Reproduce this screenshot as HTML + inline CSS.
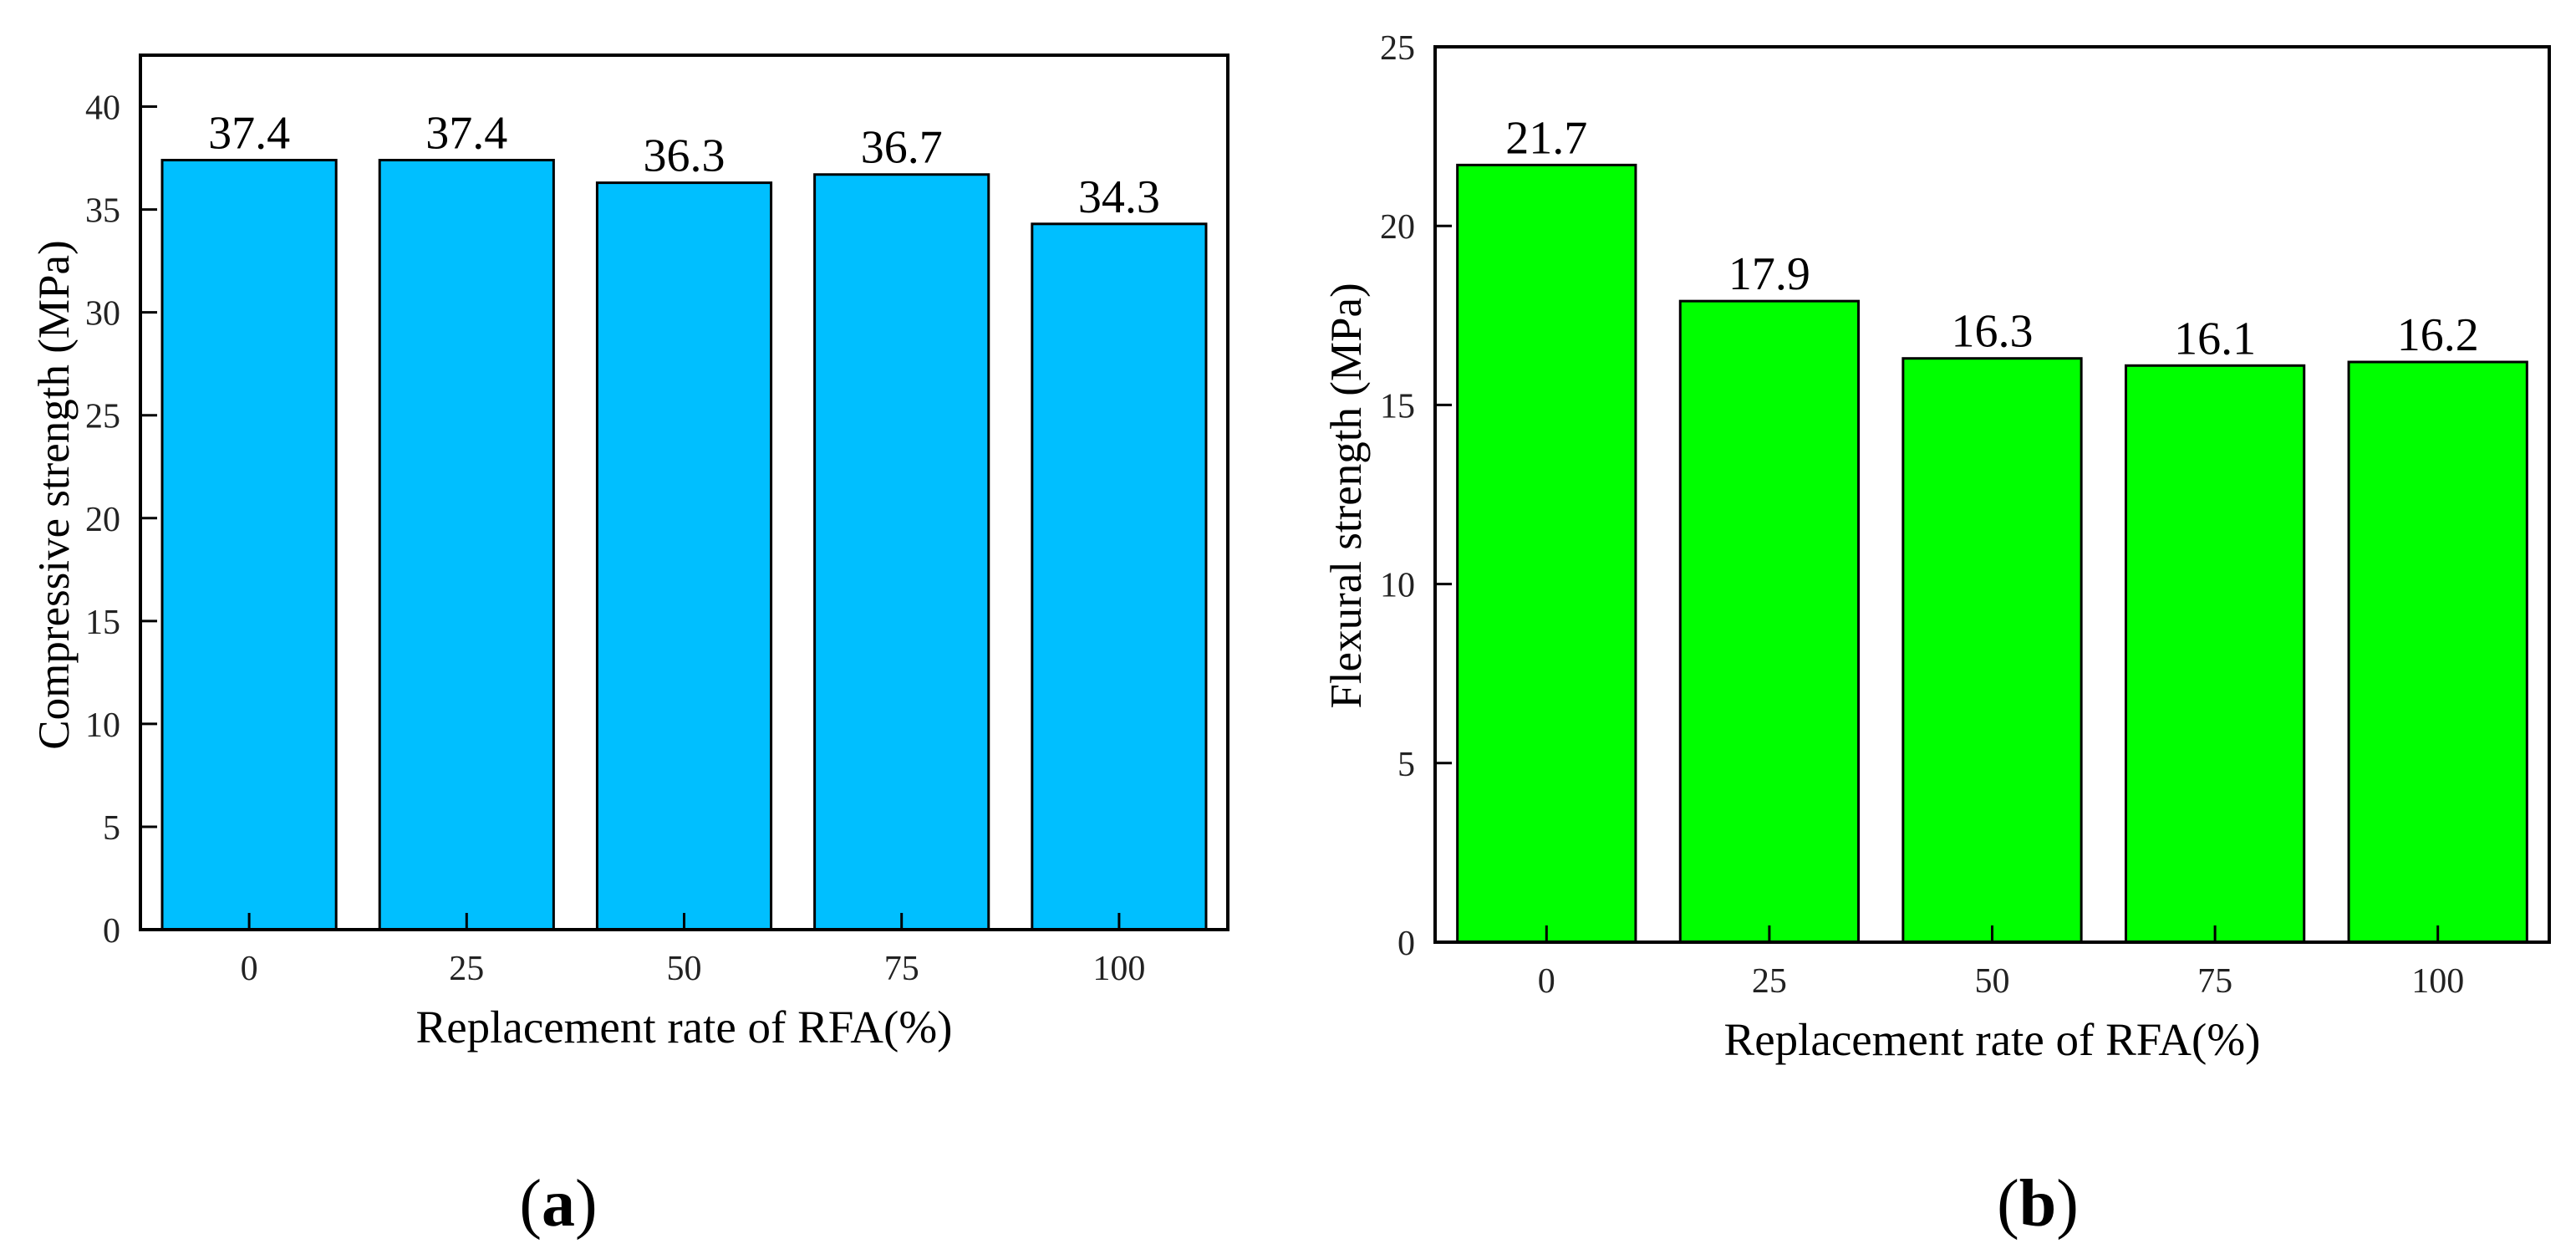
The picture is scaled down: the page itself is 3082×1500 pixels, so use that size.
<!DOCTYPE html>
<html><head><meta charset="utf-8">
<style>
html,body{margin:0;padding:0;background:#fff;}
svg{display:block;font-family:"Liberation Serif",serif;}
</style></head>
<body>
<svg id="fig" width="3082" height="1500" viewBox="0 0 3082 1500" xmlns="http://www.w3.org/2000/svg"></svg>
<script>
const categories = ["0","25","50","75","100"];
const compressiveValues = [37.4, 37.4, 36.3, 36.7, 34.3];
const flexuralValues = [21.7, 17.9, 16.3, 16.1, 16.2];
const compressiveTicks = [0,5,10,15,20,25,30,35,40];
const flexuralTicks = [0,5,10,15,20,25];

const NS = "http://www.w3.org/2000/svg";
const svg = document.getElementById("fig");
function mk(tag, attrs, parent){
  const e = document.createElementNS(NS, tag);
  for (const k in attrs) e.setAttribute(k, attrs[k]);
  (parent||svg).appendChild(e);
  return e;
}
function drawChart(cfg){
  const g = mk("g", {});
  
  
  const L=cfg.left,R=cfg.right,T=cfg.top,B=cfg.bottom;
  const y = v => B - v/cfg.ymax*(B-T);
  const band = (R-L)/cfg.cats.length;
  const xc = i => L + band*(i+0.5);
  const bw = band*0.8;
  cfg.values.forEach((v,i)=>{
    const r = mk("rect",{x:xc(i)-bw/2,y:y(v),width:bw,height:B-y(v),fill:cfg.color,stroke:"#000","stroke-width":3},g);
    
    
    const t = mk("text",{x:xc(i),y:y(v)-14,"text-anchor":"middle","font-size":56,fill:"#000"},g);
    t.textContent = v.toFixed(1);
    
    
  });
  const frame = mk("rect",{x:L,y:T,width:R-L,height:B-T,fill:"none",stroke:"#000","stroke-width":4},g);
  
  
  cfg.ticks.forEach(tv=>{
    const ln = mk("line",{x1:L,x2:L+20,y1:y(tv),y2:y(tv),stroke:"#000","stroke-width":3},g);
    
    
    const t = mk("text",{x:L-24,y:y(tv)+15,"text-anchor":"end","font-size":42,fill:"#222"},g);
    t.textContent = tv;
    
    
  });
  cfg.cats.forEach((c,i)=>{
    const ln = mk("line",{x1:xc(i),x2:xc(i),y1:B,y2:B-20,stroke:"#000","stroke-width":3},g);
    
    
    const t = mk("text",{x:xc(i),y:B+60,"text-anchor":"middle","font-size":42,fill:"#222"},g);
    t.textContent = c;
    
    
  });
  const xt = mk("text",{x:(L+R)/2,y:B+135,"text-anchor":"middle","font-size":55,fill:"#000"},g);
  xt.textContent = "Replacement rate of RFA(%)";
  
  
  const yt = mk("text",{x:0,y:0,"text-anchor":"middle","font-size":53,fill:"#000",transform:`translate(${cfg.ytx},${cfg.yty}) rotate(-90)`},g);
  yt.textContent = cfg.ytitle;
  
  
  const p = mk("text",{x:cfg.px,y:1466,"text-anchor":"middle","font-size":80,fill:"#000"},g);
  p.innerHTML = '(<tspan font-weight="bold">' + cfg.plabel + '</tspan>)';
  
  
}
drawChart({name:"chart-compressive",left:168,right:1469,top:66,bottom:1112,ymax:42.5,
  cats:categories,values:compressiveValues,ticks:compressiveTicks,color:"#00bfff",
  ytitle:"Compressive strength (MPa)",ytx:82,yty:592,px:668,plabel:"a"});
drawChart({name:"chart-flexural",left:1717,right:3050,top:56,bottom:1127,ymax:25,
  cats:categories,values:flexuralValues,ticks:flexuralTicks,color:"#00ff00",
  ytitle:"Flexural strength (MPa)",ytx:1628,yty:593,px:2438,plabel:"b"});
</script>
</body></html>
